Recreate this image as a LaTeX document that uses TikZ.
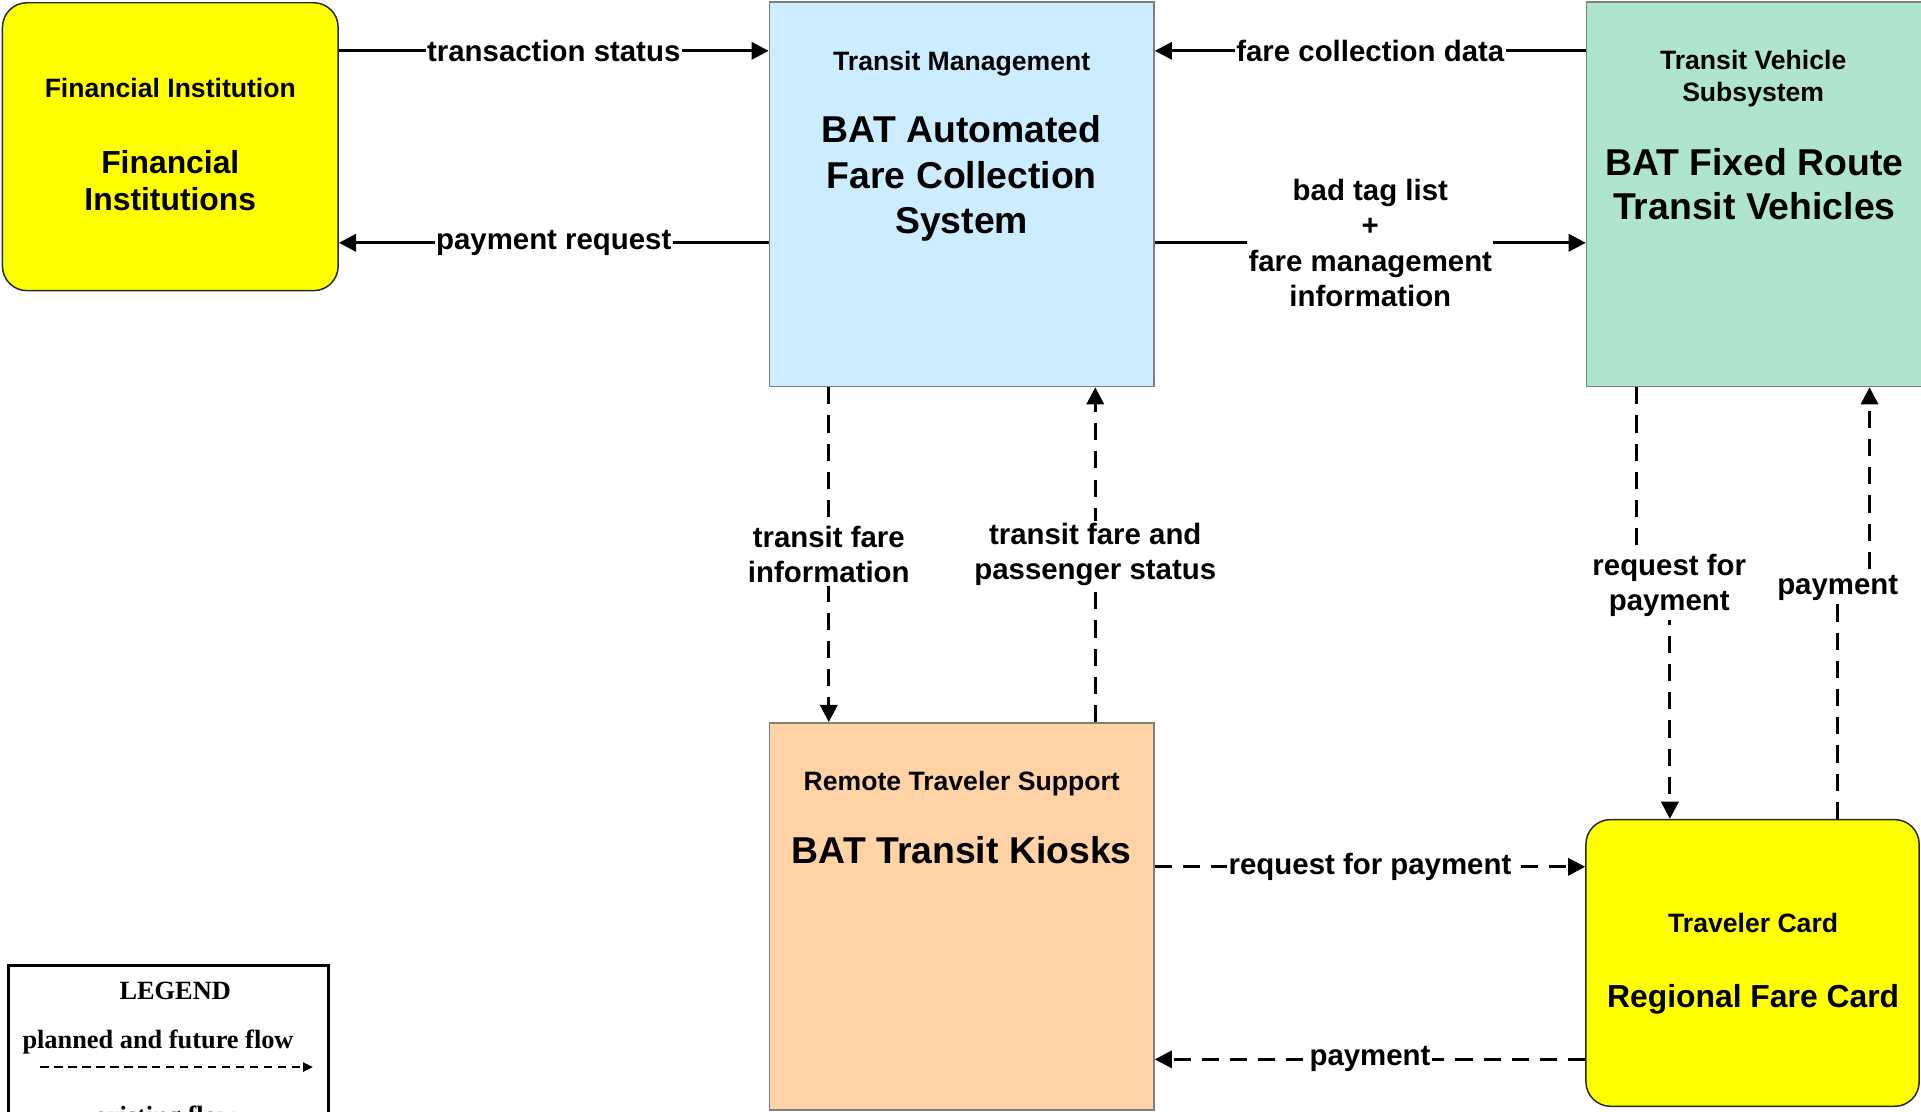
\documentclass[tikz,border=0pt]{standalone}
\usepackage{fontspec}
\setmainfont{Liberation Sans}
\newfontfamily\legendfont{Liberation Serif}
\usetikzlibrary{arrows.meta}
\definecolor{fiyellow}{HTML}{FFFF00}
\definecolor{tmblue}{HTML}{CCECFF}
\definecolor{tvgreen}{HTML}{AEE5CC}
\definecolor{rtpeach}{HTML}{FFD3A5}
\definecolor{boxgray}{HTML}{7F7F7F}
\tikzset{
  box/.style={draw=boxgray, line width=0.6pt, inner sep=0pt},
  rbox/.style={draw=black!85, line width=0.6pt, rounded corners=10pt, inner sep=0pt},
  flow/.style={line width=1.3pt, -{Triangle[length=7pt,width=7pt]}},
  dflow/.style={flow, dash pattern=on 7pt off 4.5pt},
  lbl/.style={fill=white, inner xsep=0.5pt, inner ysep=1pt, align=center,
              font=\bfseries\fontsize{12}{14.5}\selectfont},
  ttl/.style={anchor=base, inner sep=0pt, font=\bfseries\fontsize{10.85}{13}\selectfont},
  bigA/.style={anchor=base, inner sep=0pt, font=\bfseries\fontsize{15.25}{18.5}\selectfont},
  bigB/.style={anchor=base, inner sep=0pt, font=\bfseries\fontsize{13}{15}\selectfont},
  legtxt/.style={anchor=base, inner sep=0pt, font=\legendfont\bfseries\fontsize{10.75}{13}\selectfont},
}
\begin{document}
\begin{tikzpicture}[x=0.5pt,y=-0.5pt]
\useasboundingbox (0,0) rectangle (1568,907.6);
\clip (0,0) rectangle (1568,907.6);

% boxes
\node[rbox, fill=fiyellow, minimum width=137pt, minimum height=117.5pt] (fi) at (139,119.75) {};
\node[box, fill=tmblue, minimum width=157pt, minimum height=157pt] (tm) at (785,158.5) {};
\node[box, fill=tvgreen, minimum width=150pt, minimum height=157pt] (tv) at (1445,158.5) {};
\node[box, fill=rtpeach, minimum width=157pt, minimum height=158pt] (rt) at (785,748) {};
\node[rbox, fill=fiyellow, minimum width=136pt, minimum height=117pt] (tc) at (1430.5,786) {};
\node[draw, line width=1.1pt, minimum width=130.5pt, minimum height=90pt, inner sep=0pt] (legend) at (137.5,878) {};

% box texts
\node[ttl] (fit) at (139,79.5) {Financial Institution};
\node[bigB] (fin1) at (139,141.5) {Financial};
\node[bigB] (fin2) at (139,172) {Institutions};

\node[ttl] (tmt) at (785,57.5) {Transit Management};
\node[bigA] (tm1) at (785,116.5) {BAT Automated};
\node[bigA] (tm2) at (785,153.5) {Fare Collection};
\node[bigA] (tm3) at (785,190.5) {System};

\node[ttl] (tvt1) at (1431,57) {Transit Vehicle};
\node[ttl] (tvt2) at (1431,82.5) {Subsystem};
\node[bigA] (tv1) at (1432,143) {BAT Fixed Route};
\node[bigA] (tv2) at (1432,179) {Transit Vehicles};

\node[ttl] (rtt) at (785,645.5) {Remote Traveler Support};
\node[bigA] (rt1) at (785,704.5) {BAT Transit Kiosks};

\node[ttl] (tct) at (1431,761.5) {Traveler Card};
\node[bigB] (tc1) at (1431,822.5) {Regional Fare Card};

% solid flows
\draw[flow] (fi.east |- 0,41.5) -- node[lbl] (l1) {transaction status} (tm.west |- 0,41.5);
\draw[flow] (tm.west |- 0,198.2) -- node[lbl] (l2) {payment request} (fi.east |- 0,198.2);
\draw[flow] (tv.west |- 0,41.5) -- node[lbl] (l3) {fare collection data} (tm.east |- 0,41.5);
\draw[flow] (tm.east |- 0,198.2) -- node[lbl] (l4) {bad tag list\\+\\fare management\\information} (tv.west |- 0,198.2);

% dashed flows (vertical, centre)
\draw[dflow] (tm.south -| 676.5,0) -- node[lbl] (l5) {transit fare\\information} (rt.north -| 676.5,0);
\draw[dflow] (rt.north -| 894,0) -- node[lbl] (l6) {transit fare and\\passenger status} (tm.south -| 894,0);

% dashed flows (vertical, right)
\coordinate (j1) at (1336,478);
\coordinate (j2) at (1363,478);
\draw[dflow] (tv.south -| j1) -- (j1) -- (j2) -- (tc.north -| j2);
\node[lbl] (l7) at (1362.5,478) {request for\\payment};
\coordinate (j3) at (1500,480);
\coordinate (j4) at (1526,480);
\draw[dflow] (tc.north -| j3) -- (j3) -- (j4) -- (tv.south -| j4);
\node[lbl] (l8) at (1500,480) {payment};

% dashed flows (horizontal, bottom)
\draw[dflow] (rt.east |- 0,707.5) -- node[lbl] (l9) {request for payment} (tc.west |- 0,707.5);
\draw[dflow] (tc.west |- 0,864.7) -- node[lbl] (l10) {payment} (rt.east |- 0,864.7);

% legend
\node[legtxt] (lg1) at (143,815.5) {LEGEND};
\node[legtxt] (lg2) at (129,855.5) {planned and future flow};
\coordinate (la) at (33,871);
\coordinate (lb) at (255.5,871);
\draw[line width=0.95pt, dash pattern=on 3.4pt off 2.3pt, -{Triangle[length=4pt,width=3.6pt]}] (la) -- (lb);
\node[legtxt] (lg3) at (135,918) {existing flow};
\end{tikzpicture}
\end{document}
